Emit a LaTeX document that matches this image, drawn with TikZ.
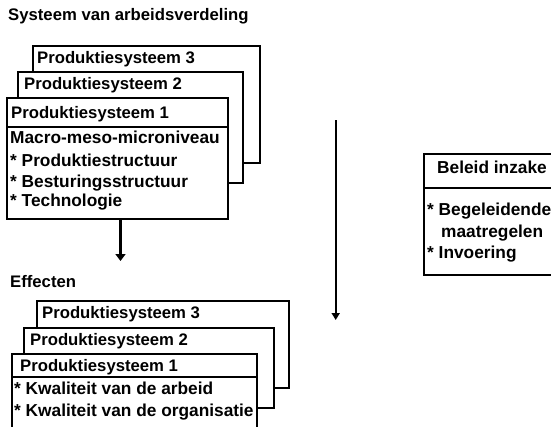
\documentclass[tikz,border=0pt]{standalone}
\usepackage{fontspec}
\setmainfont{Liberation Sans}
\usetikzlibrary{arrows.meta}
\begin{document}
\begin{tikzpicture}[x=1pt,y=-1pt,
  frame/.style={draw, line width=1.6pt, fill=white, inner sep=0pt, anchor=north west},
  rule/.style={line width=1.6pt},
  txt/.style={anchor=base west, inner sep=0pt, font=\bfseries\fontsize{17.3}{20}\selectfont},
  head/.style={txt, font=\bfseries\fontsize{16.7}{20}\selectfont},
  flow/.style={line width=3.6pt, -{Triangle[width=10pt,length=7pt]}},
  longflow/.style={line width=2.4pt, -{Triangle[width=8pt,length=7pt]}}]
\useasboundingbox (0,0) rectangle (551,426);
\clip (0,0) rectangle (551,426);

% headline
\node[head] (title) at (8,20) {Systeem van arbeidsverdeling};

% upper stack of production systems
\node[frame, minimum width=227pt, minimum height=117pt] (t3) at (32,45) {};
\node[head] (t3l) at (37,63) {Produktiesysteem 3};
\node[frame, minimum width=225pt, minimum height=111pt] (t2) at (17,71) {};
\node[head] (t2l) at (24,89) {Produktiesysteem 2};
\node[frame, minimum width=221pt, minimum height=121pt] (t1) at (6,97) {};
\draw[rule] (t1.west |- 0,127) -- (t1.east |- 0,127);
\node[head] (t1l) at (11,118) {Produktiesysteem 1};
\node[txt] (t1a) at (10,143) {Macro-meso-microniveau};
\node[txt] (t1b) at (10,166) {* Produktiestructuur};
\node[txt] (t1c) at (10,187) {* Besturingsstructuur};
\node[txt] (t1d) at (10,206) {* Technologie};

% effect arrow
\coordinate (effin) at (120.5,261);
\draw[flow] (t1.south -| effin) -- (effin);

\node[head] (eff) at (10,287) {Effecten};

% lower stack of production systems
\node[frame, minimum width=252pt, minimum height=87pt] (b3) at (36,300) {};
\node[head] (b3l) at (42,318) {Produktiesysteem 3};
\node[frame, minimum width=250pt, minimum height=80pt] (b2) at (23,327) {};
\node[head] (b2l) at (30,345) {Produktiesysteem 2};
\node[frame, minimum width=245pt, minimum height=100pt] (b1) at (11,353) {};
\draw[rule] (b1.west |- 0,377) -- (b1.east |- 0,377);
\node[head] (b1l) at (20,371) {Produktiesysteem 1};
\node[txt] (b1a) at (14,394) {* Kwaliteit van de arbeid};
\node[txt] (b1b) at (14,416) {* Kwaliteit van de organisatie};

% long arrow
\coordinate (lt) at (335.7,120);
\coordinate (lb) at (335.7,320);
\draw[longflow] (lt) -- (lb);

% policy box
\node[frame, minimum width=140pt, minimum height=121pt] (pol) at (423,153) {};
\draw[rule] (pol.west |- 0,188) -- (pol.east |- 0,188);
\node[txt] (pola) at (437,173) {Beleid inzake};
\node[txt] (polb) at (427,215) {* Begeleidende};
\node[txt] (polc) at (441,237) {maatregelen};
\node[txt] (pold) at (427,258) {* Invoering};
\end{tikzpicture}
\end{document}
